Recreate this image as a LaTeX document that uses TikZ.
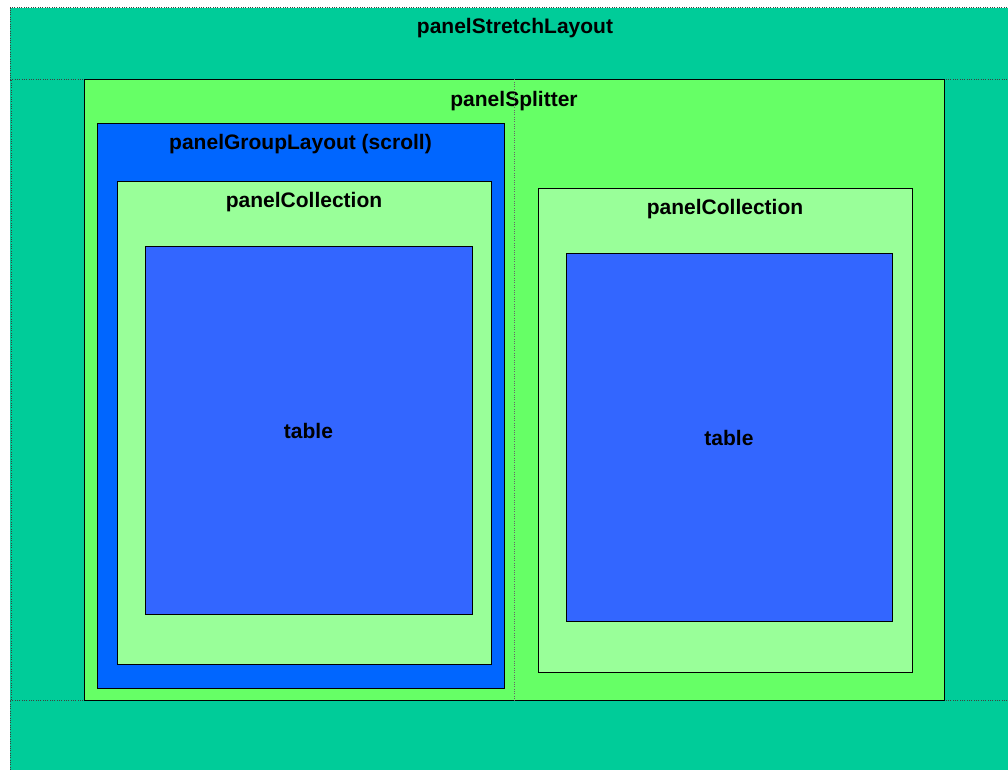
\documentclass[tikz,border=0pt]{standalone}
\usepackage{fontspec}
\setmainfont{Liberation Sans}
\usepackage{xcolor}
\usetikzlibrary{positioning, fit}

\definecolor{stretchteal}{HTML}{00CC99}
\definecolor{splitgreen}{HTML}{66FF66}
\definecolor{groupblue}{HTML}{0066FF}
\definecolor{collgreen}{HTML}{99FF99}
\definecolor{tableblue}{HTML}{3366FF}

\begin{document}
\begin{tikzpicture}[
   x=0.75pt, y=-0.75pt,
   panel/.style={draw, line width=0.75pt, inner sep=0pt},
   zone/.style={draw=black!75, densely dotted, line width=0.75pt, inner sep=0pt},
   caption/.style={font=\fontsize{15.75}{19}\selectfont\bfseries, inner sep=0pt, anchor=base},
   divider/.style={draw=black!60, densely dotted, line width=0.75pt}]

  \useasboundingbox (0,0) rectangle (1008,770);

  % stretch layout: top, centre and bottom
  \node[inner sep=0pt, fill=stretchteal, fit={(10,8) (1008,770)}] (stretch) {};
  \node[zone, fit={(10,8) (1008,80)}] (north) {};
  \node[zone, fit={(10,700) (1008,770)}] (south) {};
  \draw[divider, draw=black!75] ([xshift=1.5pt]north.south west) -- ([xshift=1.5pt]south.north west);
  \node[caption] (stretchcap) at ([xshift=4.5pt, yshift=-19.5pt]north.north) {panelStretchLayout};

  % splitter
  \node[panel, fill=splitgreen, fit={(84,80) (944,700)}] (splitter) {};
  \node[caption] (splittercap) at ([yshift=-20pt]splitter.north) {panelSplitter};
  \draw[divider] (splitter.north) -- (splitter.south);

  % left side
  \node[panel, fill=groupblue, fit={(97,124) (504,688)}] (group) {};
  \node[caption] (groupcap) at ([yshift=-19.5pt]group.north) {panelGroupLayout (scroll)};
  \node[panel, fill=collgreen, fit={(117,182) (491,664)}] (colleft) {};
  \node[caption] (colleftcap) at ([yshift=-19.5pt]colleft.north) {panelCollection};
  \node[panel, fill=tableblue, fit={(145,247) (472,614)}] (tableleft) {};
  \node[caption, anchor=center] (tableleftcap) at (tableleft.center) {table};

  % right side
  \node[panel, fill=collgreen, fit={(538,189) (912,672)}] (colright) {};
  \node[caption] (colrightcap) at ([yshift=-19.5pt]colright.north) {panelCollection};
  \node[panel, fill=tableblue, fit={(566,254) (892,621)}] (tableright) {};
  \node[caption, anchor=center] (tablerightcap) at (tableright.center) {table};
\end{tikzpicture}
\end{document}
